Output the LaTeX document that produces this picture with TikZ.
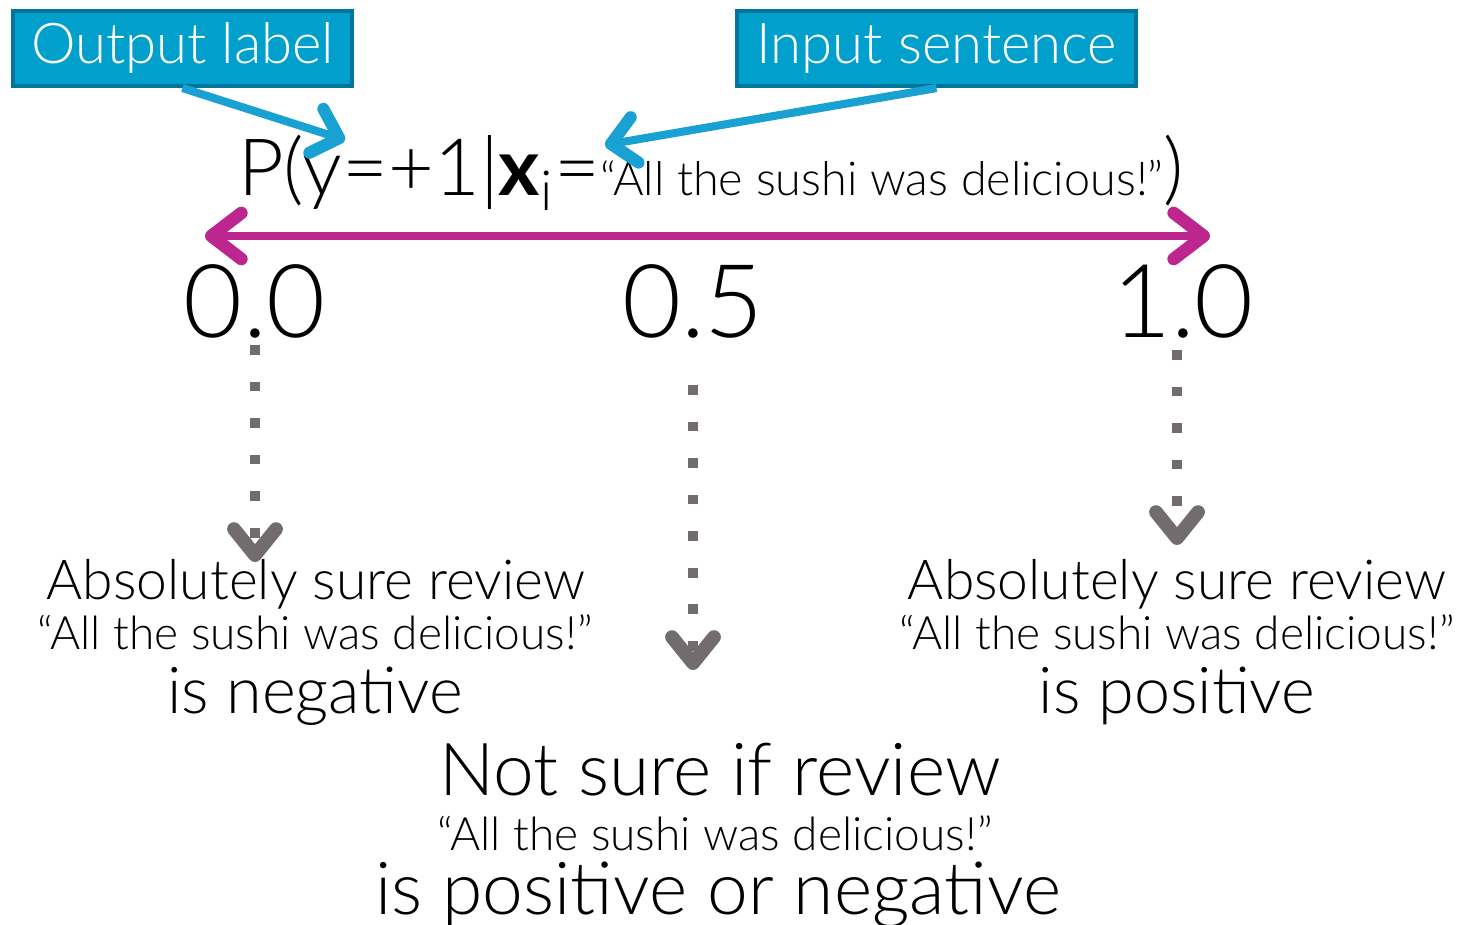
\documentclass[tikz,border=0pt]{standalone}
\usepackage{fontspec}
\setmainfont{Lato}[UprightFont=* Light, BoldFont=* Bold]
\usetikzlibrary{positioning,calc,arrows.meta}

\definecolor{boxblue}{RGB}{0,159,204}
\definecolor{boxedge}{RGB}{0,118,156}
\definecolor{arrowblue}{RGB}{26,161,212}
\definecolor{axismag}{RGB}{190,38,143}
\definecolor{dotgray}{RGB}{114,108,110}

\tikzset{
  tagbox/.style={draw=boxedge, line width=1.2pt, fill=boxblue, text=white,
    font=\fontsize{16}{18}\selectfont, minimum height=0.75cm, inner sep=0pt},
  bluearrow/.style={arrowblue, line width=2.3pt,
    -{Straight Barb[length=2.4mm,width=4.6mm,line width=0pt 1.5,round]}},
  axisarrow/.style={axismag, line width=2.4pt,
    {Straight Barb[length=3mm,width=4.6mm,line width=0pt 1.5,round]}-{Straight Barb[length=3mm,width=4.6mm,line width=0pt 1.5,round]}},
  dotarrow/.style={dotgray, line width=2.8pt, dash pattern=on 2.8pt off 7.6pt,
    -{Straight Barb[length=2.6mm,width=4.2mm,line width=0pt 1.4,round]}},
  ticklbl/.style={font=\fontsize{29}{32}\selectfont, anchor=base, inner sep=1pt},
  bigline/.style={font=\fontsize{15.7}{18}\selectfont, anchor=base, inner sep=0pt},
  verdict/.style={font=\fontsize{18.4}{21}\selectfont, anchor=base, inner sep=0pt},
  midline/.style={font=\fontsize{20.8}{24}\selectfont, anchor=base, inner sep=0pt},
  quoteline/.style={font=\fontsize{13.1}{15}\selectfont, anchor=base, inner sep=0pt},
}

\begin{document}
\begin{tikzpicture}
    \useasboundingbox (0,0) rectangle (14.59,-9.25);

    % labels on top
    \node[tagbox, minimum width=3.39cm] (outlbl) at (1.825,-0.485) {Output label};
    \node[tagbox, minimum width=3.99cm] (inpsent) at (9.365,-0.485) {Input sentence};

    % the probability
    \node[anchor=base, inner sep=0pt, font=\fontsize{22.5}{26}\selectfont] (prob) at (7.11,-1.96)
      {P(y=+1|\textbf{x}\textsubscript{i}={\fontsize{13.3}{15}\selectfont “All the sushi was delicious!”})};
    \coordinate (ytip) at (3.45,-1.40);
    \coordinate (xtip) at (6.05,-1.45);
    \draw[bluearrow] (outlbl.south) -- (ytip);
    \draw[bluearrow] (inpsent.south) -- (xtip);

    % scale
    \coordinate (axl) at (2.05,-2.36);
    \coordinate (axr) at (12.10,-2.36);
    \draw[axisarrow] (axl) -- (axr);
    \node[ticklbl] (n0) at (2.55,-3.38) {0.0};
    \node[ticklbl] (n05) at (6.93,-3.38) {0.5};
    \node[ticklbl] (n1) at (11.83,-3.38) {1.0};

    % dotted arrows
    \coordinate (d0end) at (2.55,-5.62);
    \coordinate (d05end) at (6.93,-6.70);
    \coordinate (d1end) at (11.77,-5.45);
    \draw[dotarrow] (2.55,-3.45) -- (d0end);
    \draw[dotarrow] (6.93,-3.85) -- (d05end);
    \draw[dotarrow] (11.77,-3.50) -- (d1end);

    % negative end
    \node[bigline] (neg1) at (3.16,-6.00) {Absolutely sure review};
    \node[quoteline] (neg2) at (3.15,-6.50) {“All the sushi was delicious!”};
    \node[verdict] (neg3) at (3.15,-7.13) {is negative};

    % positive end
    \node[bigline] (pos1) at (11.77,-6.00) {Absolutely sure review};
    \node[quoteline] (pos2) at (11.77,-6.50) {“All the sushi was delicious!”};
    \node[verdict] (pos3) at (11.77,-7.13) {is positive};

    % middle
    \node[midline] (mid1) at (7.20,-7.95) {Not sure if review};
    \node[quoteline] (mid2) at (7.15,-8.50) {“All the sushi was delicious!”};
    \node[midline] (mid3) at (7.18,-9.14) {is positive or negative};
\end{tikzpicture}
\end{document}
